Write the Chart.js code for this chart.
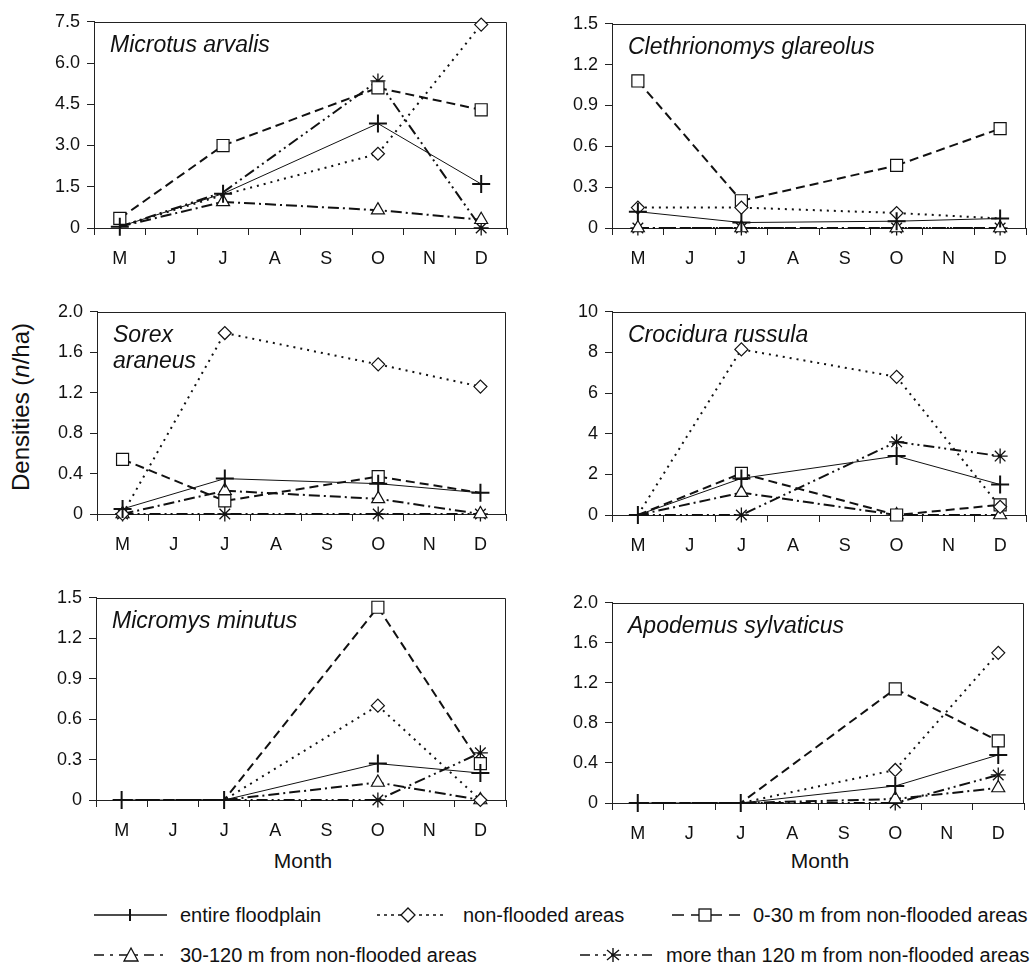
<!DOCTYPE html>
<html>
<head>
<meta charset="utf-8">
<title>Small mammal densities</title>
<script src="https://cdn.jsdelivr.net/npm/chart.js@4.4.0/dist/chart.umd.min.js"></script>
<style>
  body { margin: 0; width: 1034px; height: 967px; position: relative; overflow: hidden; background: #fff;
         font-family: "Liberation Sans", Arial, sans-serif; color: #111; }
  canvas { position: absolute; }
  .txt { position: absolute; white-space: nowrap; }
  .leg { font-size: 20px; line-height: 24px; }
  .month { font-size: 21px; line-height: 24px; width: 200px; text-align: center; }
  .ylab { font-size: 24px; line-height: 28px; width: 260px; text-align: center; transform: rotate(-90deg); }
  svg { position: absolute; overflow: visible; }
</style>
</head>
<body>

<div class="txt ylab" style="left:-109px; top:393px;">Densities (<i>n</i>/ha)</div>
<div class="txt month" style="left:203px; top:849px;">Month</div>
<div class="txt month" style="left:720px; top:849px;">Month</div>

<!-- legend -->
<svg style="left:90px; top:905px;" width="82" height="20">
  <line x1="4" y1="10" x2="77" y2="10" stroke="#111" stroke-width="1.5"/>
  <line x1="40" y1="4" x2="40" y2="16" stroke="#111" stroke-width="2"/>
</svg>
<div class="txt leg" style="left:180px; top:903px;">entire floodplain</div>

<svg style="left:373px; top:905px;" width="74" height="20">
  <line x1="4" y1="10" x2="70" y2="10" stroke="#111" stroke-width="1.5" stroke-dasharray="3,4"/>
  <path d="M35 3 L42 10 L35 17 L28 10 Z" fill="#fff" stroke="#111" stroke-width="1.3"/>
</svg>
<div class="txt leg" style="left:463px; top:903px;">non-flooded areas</div>

<svg style="left:668px; top:905px;" width="76" height="20">
  <line x1="4" y1="10" x2="72" y2="10" stroke="#111" stroke-width="1.5" stroke-dasharray="12,7"/>
  <rect x="31" y="4" width="12" height="12" fill="#fff" stroke="#111" stroke-width="1.3"/>
</svg>
<div class="txt leg" style="left:753px; top:903px;">0-30 m from non-flooded areas</div>

<svg style="left:90px; top:945px;" width="82" height="20">
  <line x1="4" y1="10" x2="77" y2="10" stroke="#111" stroke-width="1.5" stroke-dasharray="10,6,3,6"/>
  <path d="M41 3 L48 16 L34 16 Z" fill="#fff" stroke="#111" stroke-width="1.3"/>
</svg>
<div class="txt leg" style="left:180px; top:943px;">30-120 m from non-flooded areas</div>

<svg style="left:576px; top:945px;" width="80" height="20">
  <line x1="4" y1="10" x2="76" y2="10" stroke="#111" stroke-width="1.5" stroke-dasharray="10,5,3,5,3,5"/>
  <path d="M37 3 V17 M31 5 L43 15 M43 5 L31 15" stroke="#111" stroke-width="1.4"/>
</svg>
<div class="txt leg" style="left:666px; top:943px;">more than 120 m from non-flooded areas</div>

<script>
// months of the survey (only M, J, O, D were sampled)
const months = ["M", "J", "J", "A", "S", "O", "N", "D"];
const seriesNames = ["entire floodplain", "non-flooded areas", "0-30 m from non-flooded areas",
  "30-120 m from non-flooded areas", "more than 120 m from non-flooded areas"];

// Microtus arvalis
const microtusEntire     = [0.05, null, 1.25, null, null, 3.8, null, 1.6];
const microtusNonFlooded = [0.05, null, 1.2, null, null, 2.7, null, 7.4];
const microtus0to30      = [0.35, null, 3.0, null, null, 5.1, null, 4.3];
const microtus30to120    = [0.05, null, 0.95, null, null, 0.65, null, 0.3];
const microtusOver120    = [0.05, null, 1.3, null, null, 5.35, null, 0];
const microtusTicks      = ["0", "1.5", "3.0", "4.5", "6.0", "7.5"];

// Clethrionomys glareolus
const clethEntire     = [0.12, null, 0.04, null, null, 0.05, null, 0.07];
const clethNonFlooded = [0.15, null, 0.15, null, null, 0.11, null, 0.07];
const cleth0to30      = [1.08, null, 0.2, null, null, 0.46, null, 0.73];
const cleth30to120    = [0, null, 0, null, null, 0, null, 0];
const clethOver120    = [0, null, 0, null, null, 0, null, 0];
const clethTicks      = ["0", "0.3", "0.6", "0.9", "1.2", "1.5"];

// Sorex araneus
const sorexEntire     = [0.05, null, 0.35, null, null, 0.3, null, 0.21];
const sorexNonFlooded = [0, null, 1.79, null, null, 1.48, null, 1.26];
const sorex0to30      = [0.54, null, 0.13, null, null, 0.37, null, 0.21];
const sorex30to120    = [0, null, 0.23, null, null, 0.15, null, 0];
const sorexOver120    = [0, null, 0, null, null, 0, null, 0];
const sorexTicks      = ["0", "0.4", "0.8", "1.2", "1.6", "2.0"];

// Crocidura russula
const crociEntire     = [0, null, 1.8, null, null, 2.9, null, 1.5];
const crociNonFlooded = [0, null, 8.15, null, null, 6.8, null, 0.4];
const croci0to30      = [0, null, 2.05, null, null, 0, null, 0.5];
const croci30to120    = [0, null, 1.1, null, null, 0, null, 0];
const crociOver120    = [0, null, 0, null, null, 3.6, null, 2.9];
const crociTicks      = ["0", "2", "4", "6", "8", "10"];

// Micromys minutus
const micromysEntire     = [0, null, 0, null, null, 0.27, null, 0.2];
const micromysNonFlooded = [0, null, 0, null, null, 0.7, null, 0];
const micromys0to30      = [0, null, 0, null, null, 1.43, null, 0.27];
const micromys30to120    = [0, null, 0, null, null, 0.13, null, 0];
const micromysOver120    = [0, null, 0, null, null, 0, null, 0.35];
const micromysTicks      = ["0", "0.3", "0.6", "0.9", "1.2", "1.5"];

// Apodemus sylvaticus
const apodemusEntire     = [0, null, 0, null, null, 0.17, null, 0.48];
const apodemusNonFlooded = [0, null, 0, null, null, 0.33, null, 1.5];
const apodemus0to30      = [0, null, 0, null, null, 1.14, null, 0.62];
const apodemus30to120    = [0, null, 0, null, null, 0.04, null, 0.15];
const apodemusOver120    = [0, null, 0, null, null, 0, null, 0.28];
const apodemusTicks      = ["0", "0.4", "0.8", "1.2", "1.6", "2.0"];

Chart.defaults.font.family = '"Liberation Sans", Arial, sans-serif';
Chart.defaults.color = "#111";

// line style + marker per series
const styles = [
  { dash: [], width: 1, point: "cross", radius: 9, pbw: 2 },
  { dash: [2, 5], width: 2, point: "rectRot", radius: 6.5, pbw: 1.2 },
  { dash: [9, 5], width: 2, point: "rect", radius: 8.5, pbw: 1.2 },
  { dash: [11, 4, 2, 4], width: 2, point: "triangle", radius: 7.5, pbw: 1.2 },
  { dash: [11, 4, 2, 4, 2, 4], width: 2, point: "star", radius: 7.5, pbw: 1.3 },
];

// species name inside the plot, top left
const speciesLabel = {
  id: "speciesLabel",
  afterDraw(chart, args, opts) {
    const { ctx, chartArea } = chart;
    ctx.save();
    ctx.font = 'italic 23px "Liberation Sans", Arial, sans-serif';
    ctx.fillStyle = "#111";
    ctx.textBaseline = "alphabetic";
    opts.lines.forEach((t, i) => ctx.fillText(t, chartArea.left + 16, chartArea.top + 30 + i * 26));
    ctx.restore();
  }
};

// top and right sides of the box
const frame = {
  id: "frame",
  beforeDatasetsDraw(chart) {
    const { ctx, chartArea: a } = chart;
    ctx.save();
    ctx.strokeStyle = "#222";
    ctx.lineWidth = 1;
    ctx.beginPath();
    const t = Math.round(a.top) + 0.5, r = Math.round(a.right) - 0.5;
    ctx.moveTo(a.left, t);
    ctx.lineTo(r, t);
    ctx.lineTo(r, a.bottom);
    ctx.stroke();
    ctx.restore();
  }
};

const Y_W = 70, X_H = 50, PAD_T = 14, PAD_R = 6;

function drawPanel(box, title, tickLabels, series) {
  const cv = document.createElement("canvas");
  cv.width = box.r - box.l + Y_W + PAD_R;
  cv.height = box.b - box.t + PAD_T + X_H;
  cv.style.left = (box.l - Y_W) + "px";
  cv.style.top = (box.t - PAD_T) + "px";
  document.body.appendChild(cv);

  const ymax = parseFloat(tickLabels[tickLabels.length - 1]);
  const base = series[0];
  // steep drops were printed with a thin grey stroke
  const steepDrop = c => (c.p0.parsed.y - c.p1.parsed.y) / ymax > 0.12;

  const chart = new Chart(cv, {
    type: "line",
    data: {
      labels: months,
      datasets: series.map((d, i) => ({
        label: seriesNames[i],
        data: d,
        spanGaps: true,
        clip: false,
        borderColor: "#111",
        borderWidth: styles[i].width,
        borderDash: styles[i].dash,
        pointStyle: styles[i].point,
        // markers sitting on the "entire floodplain" cross are hidden behind it
        pointRadius: c => (i > 0 && base[c.dataIndex] !== null &&
          Math.abs(d[c.dataIndex] - base[c.dataIndex]) < 0.02 * ymax ? 0 : styles[i].radius),
        pointBorderWidth: styles[i].pbw,
        pointBorderColor: "#111",
        pointBackgroundColor: "#fff",
        tension: 0,
        segment: i === 0 ? {} : {
          borderWidth: c => (steepDrop(c) ? 1 : undefined),
          borderColor: c => (steepDrop(c) ? "#666" : undefined),
        },
      })),
    },
    options: {
      responsive: false,
      animation: false,
      events: [],
      layout: { padding: { top: PAD_T, right: PAD_R, left: 0, bottom: 0 } },
      plugins: {
        legend: { display: false },
        tooltip: { enabled: false },
        speciesLabel: { lines: title },
      },
      scales: {
        x: {
          offset: true,
          grid: { offset: true, drawOnChartArea: false, tickLength: 7, color: "#222" },
          border: { color: "#222", width: 1 },
          ticks: { font: { size: 18 }, color: "#111", padding: 13, maxRotation: 0, autoSkip: false },
          afterFit: s => { s.height = X_H; },
        },
        y: {
          min: 0,
          max: ymax,
          grid: { drawOnChartArea: false, tickLength: 7, color: "#222" },
          border: { color: "#222", width: 1 },
          ticks: { font: { size: 18 }, color: "#111", padding: 7, callback: (v, i) => tickLabels[i] },
          afterBuildTicks: s => { s.ticks = tickLabels.map(t => ({ value: parseFloat(t) })); },
          afterFit: s => { s.width = Y_W; },
        },
      },
    },
    plugins: [frame, speciesLabel],
  });

  // line the plot box up with the reference position
  const ca = chart.chartArea;
  cv.style.left = (box.l - ca.left) + "px";
  cv.style.top = (box.t - ca.top) + "px";
}

drawPanel({ l: 94, r: 512, t: 22, b: 232 }, ["Microtus arvalis"], microtusTicks,
  [microtusEntire, microtusNonFlooded, microtus0to30, microtus30to120, microtusOver120]);
drawPanel({ l: 612, r: 1031, t: 24, b: 232 }, ["Clethrionomys glareolus"], clethTicks,
  [clethEntire, clethNonFlooded, cleth0to30, cleth30to120, clethOver120]);
drawPanel({ l: 97, r: 511, t: 312, b: 518 }, ["Sorex", "araneus"], sorexTicks,
  [sorexEntire, sorexNonFlooded, sorex0to30, sorex30to120, sorexOver120]);
drawPanel({ l: 612, r: 1031, t: 312, b: 519 }, ["Crocidura russula"], crociTicks,
  [crociEntire, crociNonFlooded, croci0to30, croci30to120, crociOver120]);
drawPanel({ l: 96, r: 511, t: 598, b: 804 }, ["Micromys minutus"], micromysTicks,
  [micromysEntire, micromysNonFlooded, micromys0to30, micromys30to120, micromysOver120]);
drawPanel({ l: 612, r: 1029, t: 603, b: 807 }, ["Apodemus sylvaticus"], apodemusTicks,
  [apodemusEntire, apodemusNonFlooded, apodemus0to30, apodemus30to120, apodemusOver120]);
</script>
</body>
</html>
